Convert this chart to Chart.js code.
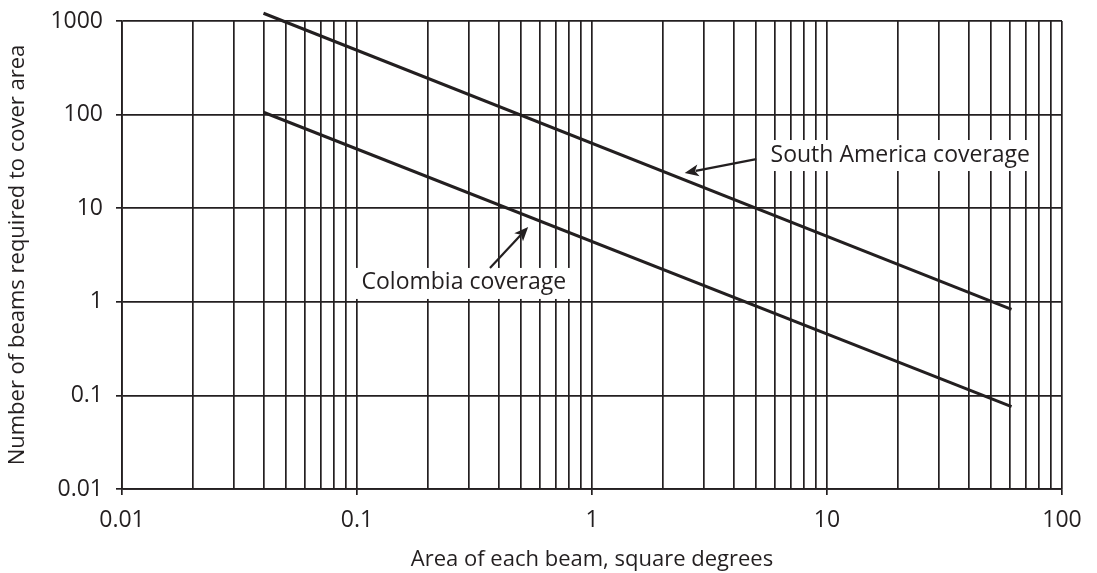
<!DOCTYPE html>
<html lang="en">
<head>
    <meta charset="UTF-8">
    <title>Beams required to cover area</title>
    <script src="https://cdn.jsdelivr.net/npm/chart.js"></script>
    <style>
        body {
            margin: 0;
            background: #fff;
        }
        #wrap {
            width: 1097px;
            height: 573px;
        }
    </style>
</head>
<body>
    <div id="wrap"><canvas id="myChart"></canvas></div>

    <script>
        // log grid ticks (every 1..9 per decade on x, decades only on y)
        const xTicks = [0.01, 0.02, 0.03, 0.04, 0.05, 0.06, 0.07, 0.08, 0.09,
                        0.1, 0.2, 0.3, 0.4, 0.5, 0.6, 0.7, 0.8, 0.9,
                        1, 2, 3, 4, 5, 6, 7, 8, 9,
                        10, 20, 30, 40, 50, 60, 70, 80, 90, 100];
        const xLabels = ['0.01', '0.1', '1', '10', '100'];
        const yTicks = [0.01, 0.1, 1, 10, 100, 1000];
        const yLabels = ['0.01', '0.1', '1', '10', '100', '1000'];

        // series: beam area (sq deg) -> number of beams
        const beamArea = [0.04, 61];
        const southAmerica = [1210, 0.83];
        const colombia = [106, 0.076];

        // callouts: [text, x, y], arrow tail, arrow tip (data units)
        const saLabel = ['South America coverage', 20.5, 37];
        const saArrow = [[5.0, 33.5], [2.48, 23.8]];
        const coLabel = ['Colombia coverage', 0.285, 1.59];
        const coArrow = [[0.368, 2.3], [0.535, 6.3]];

        const ink = '#231f20';
        const font = "'Open Sans', sans-serif";

        function isDecade(v) {
            const l = Math.log10(v);
            return Math.abs(l - Math.round(l)) < 1e-6;
        }

        function toPoints(xs, ys) {
            return xs.map((x, i) => ({ x: x, y: ys[i] }));
        }

        const callouts = {
            id: 'callouts',
            afterDatasetsDraw(chart) {
                const ctx = chart.ctx;
                const xs = chart.scales.x;
                const ys = chart.scales.y;
                ctx.save();
                ctx.font = '23px ' + font;
                ctx.textAlign = 'center';
                ctx.textBaseline = 'middle';

                [[saLabel, saArrow], [coLabel, coArrow]].forEach(item => {
                    const lab = item[0];
                    const arr = item[1];
                    const cx = xs.getPixelForValue(lab[1]);
                    const cy = ys.getPixelForValue(lab[2]);
                    const w = ctx.measureText(lab[0]).width;
                    ctx.fillStyle = '#fff';
                    ctx.fillRect(cx - w / 2 - 7, cy - 15, w + 14, 31);
                    ctx.fillStyle = ink;
                    ctx.fillText(lab[0], cx, cy);

                    const x1 = xs.getPixelForValue(arr[0][0]);
                    const y1 = ys.getPixelForValue(arr[0][1]);
                    const x2 = xs.getPixelForValue(arr[1][0]);
                    const y2 = ys.getPixelForValue(arr[1][1]);
                    const a = Math.atan2(y2 - y1, x2 - x1);
                    const hl = 14, hw = 6;
                    ctx.strokeStyle = ink;
                    ctx.lineWidth = 2.2;
                    ctx.beginPath();
                    ctx.moveTo(x1, y1);
                    ctx.lineTo(x2 - Math.cos(a) * hl * 0.8, y2 - Math.sin(a) * hl * 0.8);
                    ctx.stroke();
                    ctx.beginPath();
                    ctx.moveTo(x2, y2);
                    ctx.lineTo(x2 - Math.cos(a) * hl - Math.sin(a) * hw, y2 - Math.sin(a) * hl + Math.cos(a) * hw);
                    ctx.lineTo(x2 - Math.cos(a) * hl * 0.75, y2 - Math.sin(a) * hl * 0.75);
                    ctx.lineTo(x2 - Math.cos(a) * hl + Math.sin(a) * hw, y2 - Math.sin(a) * hl - Math.cos(a) * hw);
                    ctx.closePath();
                    ctx.fillStyle = ink;
                    ctx.fill();
                });
                ctx.restore();
            }
        };

        const gridOpts = {
            color: ink,
            lineWidth: 1.7,
            tickLength: 6,
            tickWidth: 1.7,
            tickColor: c => (c.tick && isDecade(c.tick.value)) ? ink : 'rgba(0,0,0,0)'
        };

        const ctx = document.getElementById('myChart').getContext('2d');
        const myChart = new Chart(ctx, {
            type: 'line',
            data: {
                datasets: [{
                    label: 'South America coverage',
                    data: toPoints(beamArea, southAmerica),
                    borderColor: ink,
                    borderWidth: 3,
                    pointRadius: 0,
                    clip: false
                },
                {
                    label: 'Colombia coverage',
                    data: toPoints(beamArea, colombia),
                    borderColor: ink,
                    borderWidth: 3,
                    pointRadius: 0,
                    clip: false
                }]
            },
            options: {
                responsive: true,
                maintainAspectRatio: false,
                animation: false,
                layout: { padding: { left: 0, right: 35, top: 21, bottom: 0 } },
                plugins: {
                    legend: { display: false },
                    tooltip: { enabled: false }
                },
                scales: {
                    x: {
                        type: 'logarithmic',
                        min: 0.01,
                        max: 100,
                        afterBuildTicks: s => { s.ticks = xTicks.map(v => ({ value: v })); },
                        afterFit: s => { s.height = 84; s.paddingLeft = 0; s.paddingRight = 0; },
                        grid: gridOpts,
                        border: { color: ink, width: 1.7 },
                        ticks: {
                            autoSkip: false,
                            maxRotation: 0,
                            padding: 12,
                            color: ink,
                            font: { family: font, size: 23 },
                            callback: v => isDecade(v) ? xLabels[xTicks.filter(isDecade).indexOf(v)] : ''
                        },
                        title: {
                            display: true,
                            text: 'Area of each beam, square degrees',
                            color: ink,
                            font: { family: font, size: 22 },
                            padding: { top: 0, bottom: 0 }
                        }
                    },
                    y: {
                        type: 'logarithmic',
                        min: 0.01,
                        max: 1000,
                        afterBuildTicks: s => { s.ticks = yTicks.map(v => ({ value: v })); },
                        afterFit: s => { s.width = 122; s.paddingTop = 0; s.paddingBottom = 0; },
                        grid: gridOpts,
                        border: { color: ink, width: 1.7 },
                        ticks: {
                            autoSkip: false,
                            padding: 13,
                            color: ink,
                            font: { family: font, size: 23 },
                            callback: (v, i) => yLabels[i]
                        },
                        title: {
                            display: true,
                            text: 'Number of beams required to cover area',
                            color: ink,
                            font: { family: font, size: 22 },
                            padding: { top: 5, bottom: 0 }
                        }
                    }
                }
            },
            plugins: [callouts]
        });
    </script>
</body>
</html>
